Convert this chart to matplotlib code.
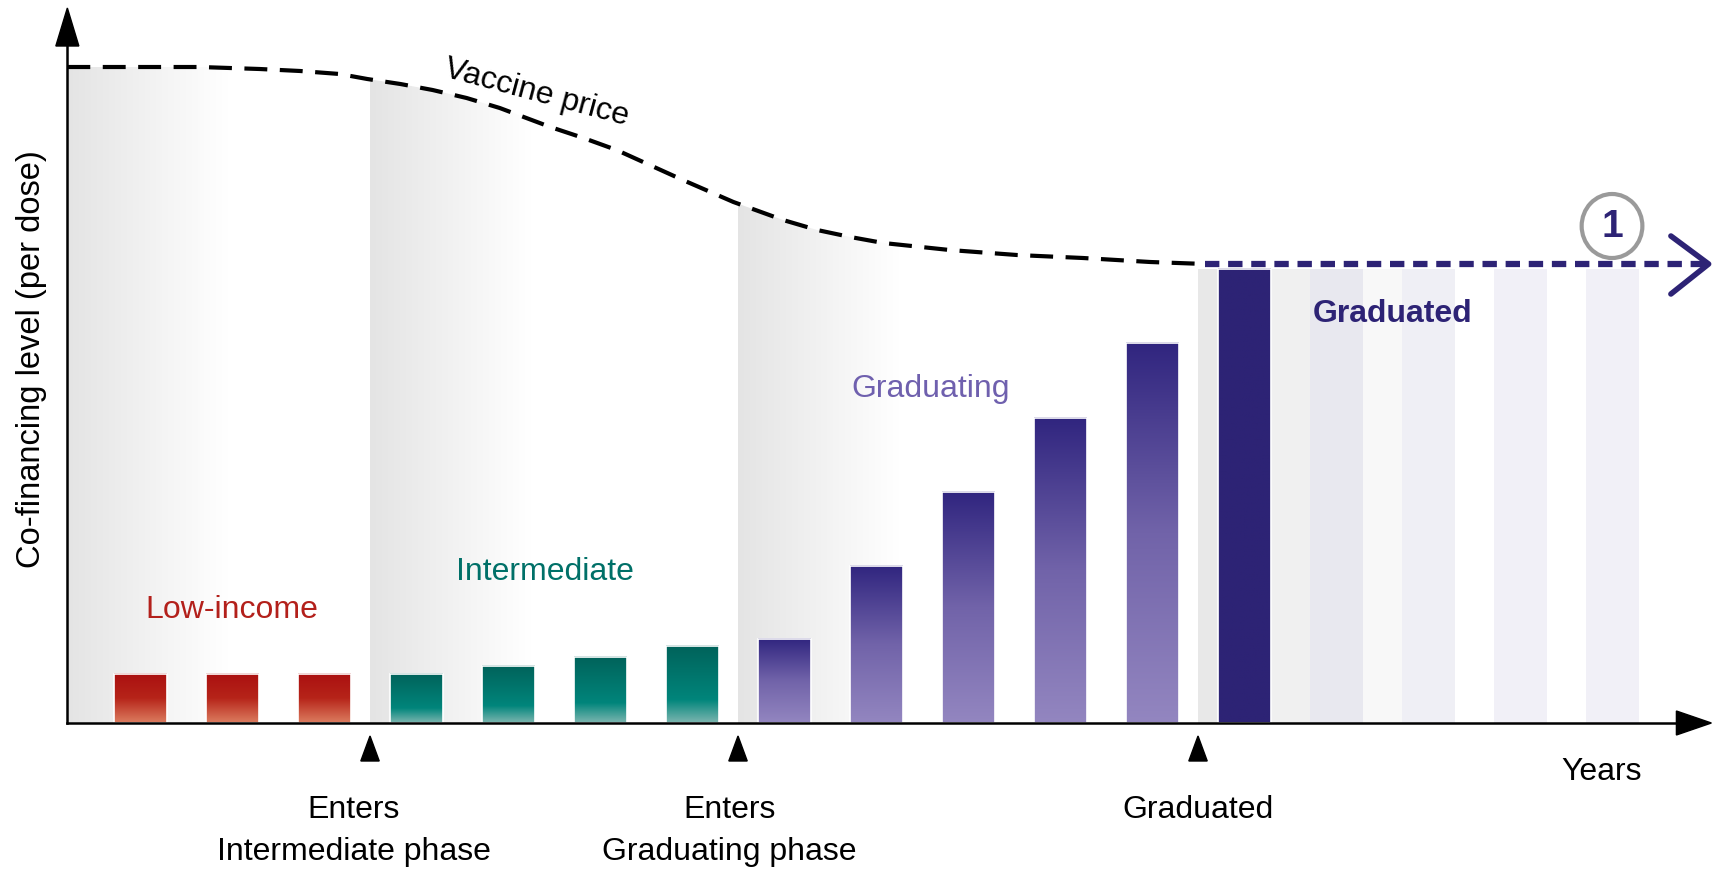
import numpy as np
import matplotlib
matplotlib.use("Agg")
import matplotlib.pyplot as plt
from matplotlib.colors import LinearSegmentedColormap
from matplotlib.patches import Polygon, Rectangle, Ellipse

plt.rcParams['font.family'] = ['Liberation Sans Narrow', 'DejaVu Sans Condensed', 'Liberation Sans', 'DejaVu Sans']

# co-financing level per year (schematic units)
phases = ['Low-income'] * 3 + ['Intermediate'] * 4 + ['Graduating'] * 5 + ['Graduated']
cofinancing = [49, 49, 49, 49, 57, 66, 77, 84, 157, 231, 305, 380, 454]

# vaccine price curve (year position, price)
price_x = [-0.79, -0.11, 0.65, 1.30, 1.74, 2.17, 2.47, 2.83, 3.18, 3.55, 3.91, 4.46, 4.82,
           5.18, 5.54, 5.90, 6.45, 6.99, 7.36, 7.72, 8.08, 8.80, 9.53, 10.25, 10.98, 11.58]
price_y = [656, 656, 656, 654, 652, 649, 644, 639, 633, 625, 615, 596, 585,
           573, 558, 543, 521, 503, 493, 486, 480, 473, 468, 465, 461, 459]

# phase boundaries (between years)
boundaries = [2.5, 6.5, 11.5]
boundary_labels = ['Enters\nIntermediate phase', 'Enters\nGraduating phase', 'Graduated']
label_shift = [-0.18, -0.09, 0.0]

# years after graduation (faded bars)
ghost_years = [13, 14, 15, 16]

NAVY = '#2d2375'
phase_cmaps = {
    'Low-income': LinearSegmentedColormap.from_list('red', [(0, '#dc7d60'), (0.5, '#b62419'), (1, '#aa1010')]),
    'Intermediate': LinearSegmentedColormap.from_list('teal', [(0, '#7db6b0'), (0.3, '#00857b'), (1, '#00625a')]),
    'Graduating': LinearSegmentedColormap.from_list('purple', [(0, '#9386c0'), (0.5, '#7163a9'), (1, '#30257f')]),
    'Graduated': LinearSegmentedColormap.from_list('navy', [NAVY, NAVY]),
}

fig = plt.figure(figsize=(17.18, 8.71), dpi=100)
ax = fig.add_axes([0, 0, 1, 1])
ax.set_xlim(-1.522, 17.152)
ax.set_ylim(-148, 723)
ax.axis('off')

x_axis0 = price_x[0]
bar_w = 0.576

# grey shading under the price curve, fading to the right
grey = LinearSegmentedColormap.from_list('grey', ['#e4e4e4', '#ffffff'])
hgrad = np.linspace(0, 1, 256).reshape(1, -1)
for start in [x_axis0, boundaries[0], boundaries[1]]:
    end = start + 1.75
    top = np.interp(start, price_x, price_y)
    xs = [start] + [px for px in price_x if start < px < end] + [end]
    ys = [np.interp(v, price_x, price_y) for v in xs]
    poly = Polygon(list(zip(xs, ys)) + [(end, 0), (start, 0)], closed=True,
                   facecolor='none', edgecolor='none')
    ax.add_patch(poly)
    im = ax.imshow(hgrad, extent=[start, end, 0, top], cmap=grey, aspect='auto', zorder=0)
    im.set_clip_path(poly)

# stripes after graduation
top_g = cofinancing[-1]
ax.add_patch(Rectangle((boundaries[2], 0), 12 - bar_w / 2 - boundaries[2], top_g, color='#e8e8e8', lw=0, zorder=0))
gap_colors = ['#f0f0f0', '#f8f8f8', '#ffffff', '#ffffff']
ghost_colors = ['#e8e8ef', '#efeff5', '#f1f0f7', '#f1f0f7']
for yr, gc, bc in zip(ghost_years, gap_colors, ghost_colors):
    ax.add_patch(Rectangle((yr - 1 + bar_w / 2, 0), 1 - bar_w, top_g, color=gc, lw=0, zorder=0))
    ax.add_patch(Rectangle((yr - bar_w / 2, 0), bar_w, top_g, color=bc, lw=0, zorder=0))

# gradient bars
vgrad = np.linspace(0, 1, 256).reshape(-1, 1)
for i, (ph, h) in enumerate(zip(phases, cofinancing)):
    ax.imshow(vgrad, extent=[i - bar_w / 2, i + bar_w / 2, 0, h], origin='lower',
              cmap=phase_cmaps[ph], aspect='auto', zorder=2)
    ax.add_patch(Rectangle((i - bar_w / 2, 0), bar_w, h, facecolor='none',
                           edgecolor='white', lw=1.2, zorder=2.5))

# vaccine price and projection
ax.plot(price_x, price_y, color='black', lw=3, dashes=(5.5, 3), zorder=3)
ax.plot([price_x[-1], 17.0], [price_y[-1]] * 2, color=NAVY, lw=4.5, dashes=(2.3, 1.4), zorder=3)
ax.plot([16.64, 17.05, 16.64], [487, price_y[-1], 429], color=NAVY, lw=4,
        solid_capstyle='round', solid_joinstyle='round', zorder=3)
ax.add_patch(Ellipse((16.0, 497), 0.66, 64, facecolor='white', edgecolor='#9a9a9a', lw=3, zorder=3))
ax.text(16.0, 496, '1', fontsize=28, fontweight='bold', color=NAVY, ha='center', va='center', zorder=4)

# axes with arrow heads
ax.plot([x_axis0, x_axis0], [0, 690], color='black', lw=1.8, zorder=3)
ax.fill([x_axis0 - 0.125, x_axis0 + 0.125, x_axis0], [677, 677, 715], color='black', zorder=3)
ax.plot([x_axis0, 16.8], [0, 0], color='black', lw=1.8, zorder=3)
ax.fill([16.70, 16.70, 17.08], [12, -12, 0], color='black', zorder=3)

fs = 23
for b, lab, dx in zip(boundaries, boundary_labels, label_shift):
    ax.fill([b - 0.1, b + 0.1, b], [-38, -38, -13], color='black', zorder=3)
    ax.text(b + dx, -72, lab, fontsize=fs, ha='center', va='top', linespacing=1.5)

ax.text(1.0, 113, 'Low-income', color='#b3201b', fontsize=fs, ha='center', va='center')
ax.text(4.40, 151, 'Intermediate', color='#007068', fontsize=fs, ha='center', va='center')
ax.text(8.59, 334, 'Graduating', color='#6f60ae', fontsize=fs, ha='center', va='center')
ax.text(13.61, 409, 'Graduated', color=NAVY, fontsize=fs, fontweight='bold', ha='center', va='center')
ax.text(4.31, 630, 'Vaccine price', fontsize=fs, rotation=-15, ha='center', va='center')
ax.text(15.89, -49, 'Years', fontsize=fs, ha='center', va='center')
ax.text(-1.185, 364, 'Co-financing level (per dose)', fontsize=23.5, rotation=90, ha='center', va='center')

fig.savefig('out.png', dpi=100)
